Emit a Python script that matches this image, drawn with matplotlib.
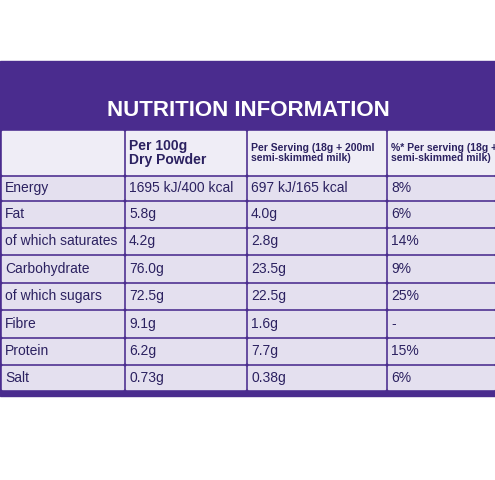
import matplotlib.pyplot as plt
from matplotlib.patches import Rectangle

title = "NUTRITION INFORMATION"
headers = ["", "Per 100g\nDry Powder", "Per Serving (18g + 200ml\nsemi-skimmed milk)",
           "%* Per serving (18g +\nsemi-skimmed milk)"]
nutrients = ["Energy", "Fat", "of which saturates", "Carbohydrate", "of which sugars",
             "Fibre", "Protein", "Salt"]
per100 = ["1695 kJ/400 kcal", "5.8g", "4.2g", "76.0g", "72.5g", "9.1g", "6.2g", "0.73g"]
perserv = ["697 kJ/165 kcal", "4.0g", "2.8g", "23.5g", "22.5g", "1.6g", "7.7g", "0.38g"]
pct = ["8%", "6%", "14%", "9%", "25%", "-", "15%", "6%"]

purple = "#4a2c8e"
cell = "#e4e0ef"
ink = "#2b2160"

fig = plt.figure(figsize=(4.95, 4.81), dpi=100)
ax = fig.add_axes([0, 0, 1, 1])
ax.set_xlim(0, 495)
ax.set_ylim(481, 0)
ax.axis("off")

ax.add_patch(Rectangle((0, 62), 495, 335, color=purple))
ax.text(248, 110, title, color="white", fontsize=16, fontweight="bold",
        ha="center", va="center", family="Liberation Sans")

cols = [0, 124, 246, 386, 495]
rows = [130, 176, 201, 228, 255, 283, 310, 338, 365, 391]
gap = 3
for r in range(len(rows) - 1):
    for c in range(4):
        x0, x1 = cols[c] + gap / 2, cols[c + 1] - gap / 2
        y0, y1 = rows[r] + gap / 2, rows[r + 1] - gap / 2
        ax.add_patch(Rectangle((x0, y0), x1 - x0, y1 - y0,
                               color="#efedf6" if r == 0 else cell))

for c, h in enumerate(headers):
    ax.text(cols[c] + 5, (rows[0] + rows[1]) / 2, h, color=ink,
            fontsize=10 if c == 1 else 7.5, family="Liberation Sans",
            fontweight="bold", va="center", ha="left", linespacing=1.0)

for i, vals in enumerate(zip(nutrients, per100, perserv, pct)):
    yc = (rows[i + 1] + rows[i + 2]) / 2
    for c, v in enumerate(vals):
        ax.text(cols[c] + 5, yc, v, color=ink, fontsize=10, family="Liberation Sans",
                va="center", ha="left")

fig.savefig("out.png", dpi=100, facecolor="white")
